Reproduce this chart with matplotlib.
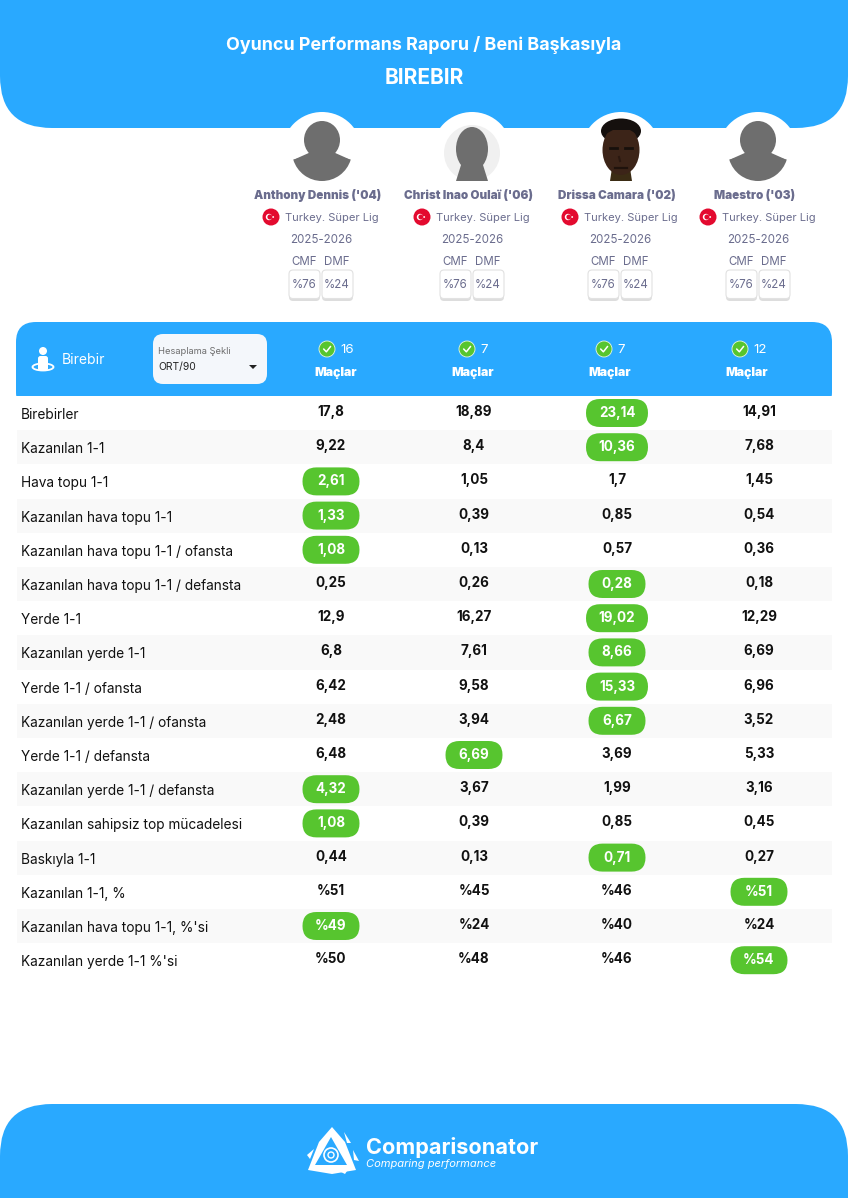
import matplotlib

matplotlib.use("Agg")
import matplotlib.pyplot as plt
from matplotlib.patches import Circle, Ellipse, FancyBboxPatch, Polygon, Rectangle, Wedge

plt.rcParams["font.family"] = ["Inter", "DejaVu Sans"]

BLUE = "#29a9ff"
GREEN = "#57c52f"
INK = "#111111"
SLATE = "#6b6d8e"
GREY = "#6e6e6e"

players = ["Anthony Dennis ('04)", "Christ Inao Oulaï ('06)", "Drissa Camara ('02)", "Maestro ('03)"]
matches = [16, 7, 7, 12]
pos_share = [76, 24]

rows = [
    "Birebirler",
    "Kazanılan 1-1",
    "Hava topu 1-1",
    "Kazanılan hava topu 1-1",
    "Kazanılan hava topu 1-1 / ofansta",
    "Kazanılan hava topu 1-1 / defansta",
    "Yerde 1-1",
    "Kazanılan yerde 1-1",
    "Yerde 1-1 / ofansta",
    "Kazanılan yerde 1-1 / ofansta",
    "Yerde 1-1 / defansta",
    "Kazanılan yerde 1-1 / defansta",
    "Kazanılan sahipsiz top mücadelesi",
    "Baskıyla 1-1",
    "Kazanılan 1-1, %",
    "Kazanılan hava topu 1-1, %'si",
    "Kazanılan yerde 1-1 %'si",
]
dennis = ["17,8", "9,22", "2,61", "1,33", "1,08", "0,25", "12,9", "6,8", "6,42", "2,48", "6,48", "4,32", "1,08", "0,44", "%51", "%49", "%50"]
oulai = ["18,89", "8,4", "1,05", "0,39", "0,13", "0,26", "16,27", "7,61", "9,58", "3,94", "6,69", "3,67", "0,39", "0,13", "%45", "%24", "%48"]
camara = ["23,14", "10,36", "1,7", "0,85", "0,57", "0,28", "19,02", "8,66", "15,33", "6,67", "3,69", "1,99", "0,85", "0,71", "%46", "%40", "%46"]
maestro = ["14,91", "7,68", "1,45", "0,54", "0,36", "0,18", "12,29", "6,69", "6,96", "3,52", "5,33", "3,16", "0,45", "0,27", "%51", "%24", "%54"]
columns = [dennis, oulai, camara, maestro]
# which player gets the green pill on each row
best = [2, 2, 0, 0, 0, 2, 2, 2, 2, 2, 1, 0, 0, 2, 3, 0, 3]

col_x = [331, 474, 617, 759]
player_x = [318, 469, 617, 755]
photo_x = [322, 472, 621, 758]
head_x = [336, 473, 610, 747]
check_x = [327, 467, 604, 740]

fig = plt.figure(figsize=(8.48, 11.99), dpi=100)
ax = fig.add_axes([0, 0, 1, 1])
ax.set_xlim(0, 848)
ax.set_ylim(1199, 0)
ax.axis("off")


def rbox(x, y, w, h, r, fc, ec="none", lw=0, z=2):
    p = FancyBboxPatch((x + r, y + r), w - 2 * r, h - 2 * r, boxstyle=f"round,pad={r},rounding_size={r}",
                       fc=fc, ec=ec, lw=lw, zorder=z)
    ax.add_patch(p)


def label(x, y, s, size, color=INK, weight="normal", ha="center", **kw):
    ax.text(x, y, s, fontsize=size, color=color, fontweight=weight, ha=ha, va="center", zorder=6, **kw)


def check(x, y, r):
    ax.add_patch(Circle((x, y), r, fc=GREEN, ec="#e8f7e0", lw=0.6, zorder=5))
    ax.plot([x - r * 0.42, x - r * 0.08, x + r * 0.45], [y, y + r * 0.35, y - r * 0.32],
            color="white", lw=1.1, zorder=6, solid_capstyle="round")


def flag(x, y):
    ax.add_patch(Circle((x, y), 8.5, fc="#e30a2f", zorder=5))
    ax.add_patch(Circle((x - 2, y), 3.2, fc="white", zorder=6))
    ax.add_patch(Circle((x - 1.1, y), 2.5, fc="#e30a2f", zorder=6))
    ax.add_patch(Circle((x + 2.2, y), 0.9, fc="white", zorder=6))


def silhouette(x):
    # generic grey bust: round base, sloped shoulders, squarish head
    ax.add_patch(Wedge((x, 151), 30, 17, 163, fc=GREY, zorder=4))
    ax.add_patch(Polygon([(x - 29, 160), (x - 11, 152), (x + 11, 152), (x + 29, 160)], fc=GREY, zorder=4))
    ax.add_patch(Ellipse((x, 140), 36, 38, fc=GREY, zorder=4))
    ax.add_patch(Rectangle((x - 13, 128), 26, 28, fc=GREY, zorder=4))


def bald(x):
    ax.add_patch(Circle((x, 153), 28, fc="#f0f0f0", zorder=3))
    ax.add_patch(Ellipse((x, 149), 32, 44, fc=GREY, zorder=4))
    ax.add_patch(Polygon([(x - 16, 181), (x - 11, 165), (x + 11, 165), (x + 16, 181)], fc=GREY, zorder=4))


def photo(x):
    ax.add_patch(Polygon([(x - 11, 181), (x - 9, 168), (x + 9, 168), (x + 11, 181)], fc="#3b2c14", zorder=4))
    ax.add_patch(Ellipse((x, 131), 40, 25, fc="#15100e", zorder=4))
    ax.add_patch(Ellipse((x, 150), 37, 50, fc="#3c2418", zorder=5))
    ax.add_patch(Polygon([(x - 17, 135), (x - 8, 130), (x + 9, 130), (x + 17, 135), (x + 12, 125), (x - 12, 125)], fc="#15100e", zorder=5))
    ax.plot([x - 11, x - 4], [148, 148], color="#17100c", lw=2, zorder=6)
    ax.plot([x + 4, x + 11], [148, 148], color="#17100c", lw=2, zorder=6)
    ax.plot([x - 2, x - 1], [157, 161], color="#2a1810", lw=1.5, zorder=6)
    ax.plot([x - 6, x + 6], [168, 168], color="#1f120c", lw=1.6, zorder=6)


# banners
rbox(0, -60, 848, 188, 52, BLUE, z=1)
rbox(0, 1104, 848, 160, 52, BLUE, z=1)
ax.add_patch(Rectangle((0, 1198), 848, 2, fc="white", zorder=2))

label(424, 45, "Oyuncu Performans Raporu / Beni Başkasıyla", 12.9, "white", "bold")
label(424, 78, "BIREBIR", 15, "white", "bold")

# player cards
drawers = [silhouette, bald, photo, silhouette]
for i, name in enumerate(players):
    x = player_x[i]
    cx = photo_x[i]
    ax.add_patch(Circle((cx, 152), 40, fc="white", zorder=2))
    drawers[i](cx)
    ax.add_patch(Rectangle((cx - 44, 181), 88, 8, fc="white", zorder=5))
    label(x, 196, name, 8.4, SLATE, "black")
    flag(x - 47, 217)
    label(x + 14, 218, "Turkey. Süper Lig", 8.0, SLATE)
    label(x + 3, 240, "2025-2026", 8.3, SLATE)
    for dx, pos, share in zip((-14, 19), ("CMF", "DMF"), pos_share):
        bx = x + dx
        label(bx, 262, pos, 8.3, SLATE)
        rbox(bx - 15, 270, 31, 31, 4, "#dddddd", z=2)
        rbox(bx - 15, 270, 31, 28.5, 4, "white", "#e2e2e2", 0.8, z=3)
        label(bx, 285, f"%{share}", 8.3, SLATE)

# table header
rbox(16, 322, 816, 90, 20, BLUE, z=2)
ax.add_patch(Rectangle((16, 396), 816, 30, fc="white", zorder=2))
ax.add_patch(Circle((43, 351), 4, fc="white", zorder=5))
rbox(38, 356, 10, 15, 2.5, "white", z=5)
ax.add_patch(Ellipse((43, 367), 21, 7, fc="none", ec="white", lw=1.3, zorder=4))
label(62, 360, "Birebir", 10, "white", ha="left")
rbox(153, 334, 114, 50, 10, "#f4f7fb", z=4)
label(158, 351, "Hesaplama Şekli", 6.7, "#6d6d6d", ha="left")
label(158, 367, "ORT/90", 7.4, "#222222", ha="left")
ax.add_patch(Polygon([(249, 365), (257, 365), (253, 369)], fc="#222222", zorder=6))
for x, cx, n in zip(head_x, check_x, matches):
    check(cx, 349, 8)
    label(cx + 13, 350, str(n), 9.6, "white", ha="left")
    label(x, 373, "Maçlar", 8.8, "white", "black")

# rows
row_h = 34.2
for i, row in enumerate(rows):
    yc = 413 + i * row_h
    if i % 2 == 1:
        ax.add_patch(Rectangle((17, yc - row_h / 2), 815, row_h, fc="#f9f9f9", zorder=3))
    label(21, yc + 2, row, 9.85, INK, ha="left")
    for j, vals in enumerate(columns):
        if best[i] == j:
            w = 62 if len(vals[i]) == 5 else 57
            rbox(col_x[j] - w / 2, yc - 14, w, 28, 14, GREEN, z=4)
            label(col_x[j], yc, vals[i], 9.7, "white", "bold")
        else:
            label(col_x[j], yc - 1, vals[i], 9.7, INK, "bold")

# footer logo
ax.add_patch(Polygon([(332, 1127), (345, 1142), (356, 1170), (332, 1174), (308, 1170), (319, 1142)], fc="white", closed=True, zorder=4))
ax.add_patch(Polygon([(331, 1137), (347, 1165), (315, 1165)], fc=BLUE, zorder=5))
ax.add_patch(Circle((331, 1155), 7, fc="none", ec="white", lw=1.2, zorder=6))
ax.add_patch(Circle((331, 1155), 3, fc="none", ec="white", lw=1, zorder=6))
for notch in ([(344, 1132), (351, 1143), (347, 1143)], [(353, 1150), (359, 1161), (354, 1160)], [(339, 1171), (349, 1168), (345, 1174)], [(314, 1149), (310, 1159), (307, 1155)]):
    ax.add_patch(Polygon(notch, fc="white", zorder=5))
label(366, 1147, "Comparisonator", 15.6, "white", "bold", ha="left")
label(366, 1164, "Comparing performance", 8, "white", ha="left", fontstyle="italic")

fig.savefig("out.png", dpi=100)
